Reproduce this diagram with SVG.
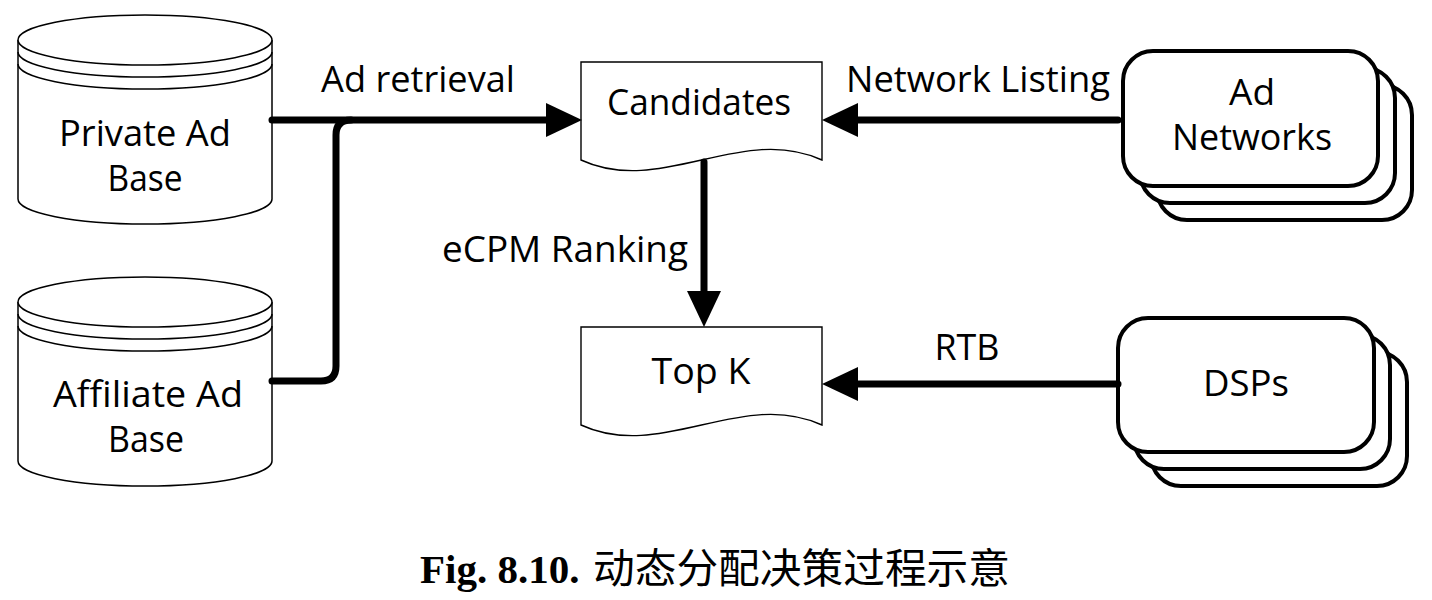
<svg xmlns="http://www.w3.org/2000/svg" width="1432" height="600" viewBox="0 0 1432 600">
<defs>
<style>
.cyl{fill:#fff;stroke:#000;stroke-width:1.5}
.arc{fill:none;stroke:#000;stroke-width:1.5}
.doc{fill:#fff;stroke:#000;stroke-width:1.4}
.stk{fill:#fff;stroke:#000;stroke-width:4}
.lbl{font-family:"Open Sans","Noto Sans","DejaVu Sans",sans-serif;font-size:36px;fill:#000;text-anchor:middle}
.con{fill:none;stroke:#000;stroke-width:7;stroke-linecap:round;stroke-linejoin:round}
.cap{font-size:41px;fill:#000}
</style>
<marker id="ah" markerUnits="userSpaceOnUse" markerWidth="36" markerHeight="34" refX="0" refY="17" orient="auto" overflow="visible">
<path d="M0,0 L36,17 L0,34 Z" fill="#000"/>
</marker>
</defs>
<rect width="1432" height="600" fill="#fff"/>

<g id="private-ad-base">
<path class="cyl" d="M18,40 L18,199 A127,25 0 0 0 272,199 L272,40"/>
<ellipse class="cyl" cx="145" cy="40" rx="127" ry="25"/>
<path class="arc" d="M18,52 A127,25 0 0 0 272,52 M18,64 A127,25 0 0 0 272,64"/>
<text class="lbl" x="145" y="146" textLength="172" lengthAdjust="spacingAndGlyphs">Private Ad</text>
<text class="lbl" x="145" y="191" textLength="75" lengthAdjust="spacingAndGlyphs">Base</text>
</g>

<g id="affiliate-ad-base">
<path class="cyl" d="M18,302 L18,461 A127,25 0 0 0 272,461 L272,302"/>
<ellipse class="cyl" cx="145" cy="302" rx="127" ry="25"/>
<path class="arc" d="M18,314 A127,25 0 0 0 272,314 M18,326 A127,25 0 0 0 272,326"/>
<text class="lbl" x="148" y="407" textLength="190" lengthAdjust="spacingAndGlyphs">Affiliate Ad</text>
<text class="lbl" x="146" y="452" textLength="76" lengthAdjust="spacingAndGlyphs">Base</text>
</g>

<g id="candidates">
<path class="doc" d="M581,62 H822 V160 C742,123 661,197 581,160 Z"/>
<text class="lbl" x="699" y="115" textLength="184" lengthAdjust="spacingAndGlyphs">Candidates</text>
</g>

<g id="top-k">
<path class="doc" d="M581,327 H822 V425 C742,388 661,462 581,425 Z"/>
<text class="lbl" x="701" y="384" textLength="99" lengthAdjust="spacingAndGlyphs">Top K</text>
</g>

<g id="ad-networks">
<rect class="stk" x="1157" y="85" width="255" height="135" rx="30"/>
<rect class="stk" x="1140" y="68" width="255" height="135" rx="30"/>
<rect class="stk" x="1123" y="51" width="255" height="135" rx="30"/>
<text class="lbl" x="1252" y="105" textLength="46" lengthAdjust="spacingAndGlyphs">Ad</text>
<text class="lbl" x="1252" y="150" textLength="160" lengthAdjust="spacingAndGlyphs">Networks</text>
</g>

<g id="dsps">
<rect class="stk" x="1151" y="352" width="256" height="134" rx="30"/>
<rect class="stk" x="1134" y="335" width="256" height="134" rx="30"/>
<rect class="stk" x="1118" y="318" width="256" height="134" rx="30"/>
<text class="lbl" x="1246" y="396" textLength="86" lengthAdjust="spacingAndGlyphs">DSPs</text>
</g>

<g id="connectors">
<path class="con" d="M272,120 H546" marker-end="url(#ah)"/>
<path class="con" d="M272,381 H321 Q336,381 336,366 V135 Q336,120 351,120"/>
<path class="con" d="M1118,120 H858" marker-end="url(#ah)"/>
<path class="con" d="M1118,384 H858" marker-end="url(#ah)"/>
<path class="con" d="M704,162 V291" marker-end="url(#ah)"/>
<text class="lbl" x="418" y="92" textLength="194" lengthAdjust="spacingAndGlyphs">Ad retrieval</text>
<text class="lbl" x="978" y="92" textLength="264" lengthAdjust="spacingAndGlyphs">Network Listing</text>
<text class="lbl" x="565" y="262" textLength="246" lengthAdjust="spacingAndGlyphs">eCPM Ranking</text>
<text class="lbl" x="967" y="360" textLength="65" lengthAdjust="spacingAndGlyphs">RTB</text>
</g>

<g id="caption">
<text x="420" y="583" class="cap"><tspan font-family="'Liberation Serif','Times New Roman',serif" font-weight="bold">Fig. 8.10.</tspan><tspan x="593" font-family="'Noto Sans CJK SC','Noto Sans CJK JP',sans-serif" textLength="417" lengthAdjust="spacingAndGlyphs">动态分配决策过程示意</tspan></text>
</g>
</svg>
